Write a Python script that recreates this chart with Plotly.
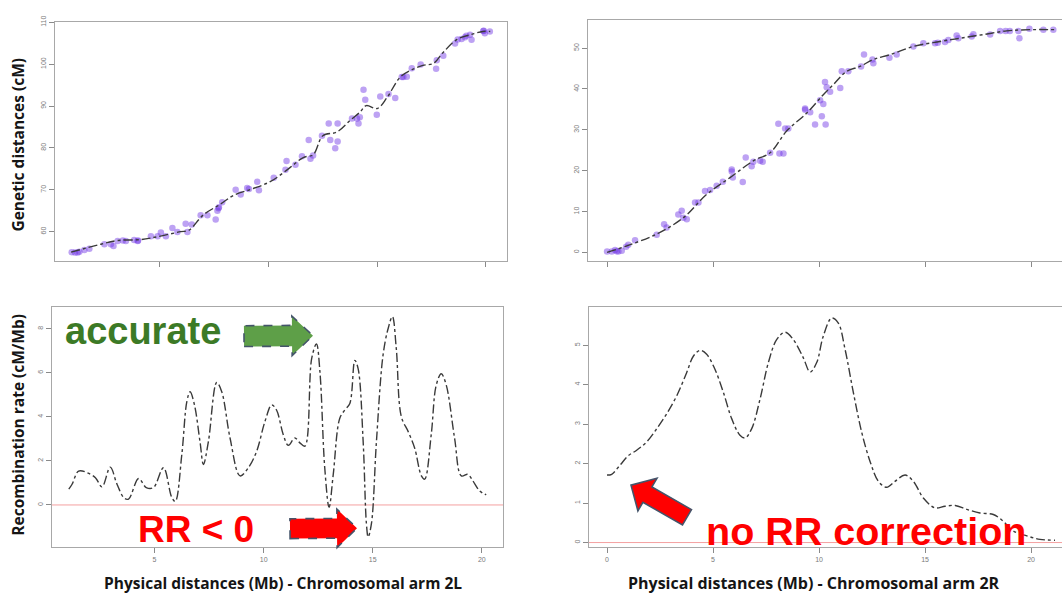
import math
import plotly.graph_objects as go

W, H = 1062, 595

# ---------------- Data ----------------
# Top-left: genetic map, chromosomal arm 2L (Mb vs cM)
gm2L_pts_x = [0.95, 1.22, 1.30, 1.53, 1.76, 2.45, 2.75, 2.87, 3.06, 3.44, 3.82, 3.98, 4.59, 4.90,
              5.05, 5.28, 5.58, 5.81, 6.19, 6.27, 6.47, 6.88, 7.19, 7.57, 7.65, 7.72, 7.87, 8.49,
              8.72, 9.02, 9.48, 9.56, 10.24, 10.78, 10.83, 11.24, 11.54, 11.85, 11.93, 12.05,
              12.46, 12.77, 12.84, 13.07, 13.18, 13.18, 13.84, 14.07, 14.14, 14.37, 14.45, 14.98,
              15.14, 15.52, 15.83, 16.13, 16.36, 16.59, 17.00, 17.71, 17.74, 18.04, 18.58, 18.88,
              19.04, 19.27, 19.34, 19.88, 19.95, 20.18, 1.10, 3.30, 4.00, 7.70, 9.10, 14.20, 16.20,
              18.70, 19.10, 19.90]
gm2L_pts_y = [55.1, 55.0, 55.2, 55.6, 55.9, 57.0, 57.0, 56.6, 57.8, 57.8, 58.0, 57.8, 58.9, 58.9,
              59.8, 58.9, 60.9, 59.9, 61.9, 59.9, 61.7, 63.9, 63.9, 62.9, 65.0, 65.8, 67.0, 70.0,
              68.9, 70.4, 71.9, 69.9, 72.9, 74.8, 76.9, 76.0, 78.0, 81.9, 77.4, 78.2,
              82.9, 85.8, 81.9, 79.9, 81.5, 85.8, 87.0, 87.0, 85.8, 93.9, 91.5, 87.9,
              92.3, 92.9, 91.9, 96.9, 97.0, 99.0, 99.9, 98.9, 100.9, 102.0, 104.9, 106.0,
              106.4, 107.0, 105.8, 107.9, 107.4, 107.8, 55.0, 57.9, 57.9, 65.6, 70.2, 87.3, 96.9,
              105.9, 106.8, 108.0]
gm2L_fit_x = [0.92, 2.29, 3.07, 4.13, 4.90, 5.96, 6.33, 7.00, 7.80, 8.40, 9.30, 10.10, 10.87, 11.60,
              12.06, 12.50, 13.15, 13.76, 14.20, 14.50, 15.00, 15.45, 16.06, 16.65, 17.10, 17.60,
              18.00, 18.67, 19.27, 19.86, 20.20]
gm2L_fit_y = [55.1, 57.0, 57.9, 58.1, 58.8, 60.0, 60.3, 64.0, 66.6, 68.7, 70.3, 72.0, 74.8, 77.7,
              78.4, 82.9, 83.8, 86.6, 88.5, 90.1, 89.4, 92.0, 96.9, 98.8, 99.7, 100.2,
              102.6, 105.9, 107.0, 107.8, 107.8]

# Top-right: genetic map, chromosomal arm 2R
gm2R_pts_x = [0.00, 0.22, 0.38, 0.53, 0.69, 0.90, 1.00, 1.32, 2.34, 2.69, 2.81, 3.36, 3.52, 3.60,
              3.76, 4.15, 4.31, 4.62, 4.86, 5.17, 5.46, 5.88, 5.93, 6.40, 6.54, 6.82, 6.90, 7.22,
              7.34, 7.69, 8.08, 8.13, 8.32, 8.40, 8.55, 9.34, 9.58, 9.81, 10.05, 10.13, 10.20,
              10.28, 10.31, 10.36, 10.52, 11.00, 11.07, 11.38, 11.98, 12.12, 12.52, 12.56, 13.32,
              13.66, 14.45, 14.92, 15.47, 15.94, 16.10, 16.49, 16.57, 17.20, 17.28, 18.07, 18.54,
              19.00, 19.40, 19.45, 19.92, 20.58, 21.05, 0.45, 5.88, 9.34, 15.60, 18.80]
gm2R_pts_y = [0.2, 0.2, 0.6, 0.2, 0.4, 1.4, 1.9, 3.0, 4.3, 6.9, 6.1, 9.3, 10.2, 8.5,
              8.1, 12.2, 12.2, 15.0, 15.3, 16.3, 17.3, 20.3, 18.3, 17.2, 23.2, 21.1, 22.2, 22.4,
              22.2, 24.4, 31.5, 24.2, 24.2, 30.3, 30.3, 35.2, 34.3, 31.3, 37.2, 33.3, 36.3,
              41.7, 31.3, 40.4, 39.3, 40.2, 44.3, 44.3, 45.5, 48.4, 47.2, 46.3, 47.6,
              48.4, 50.4, 51.2, 51.2, 51.5, 52.0, 53.1, 52.4, 52.8, 53.4, 53.3, 54.2,
              54.2, 54.2, 52.4, 54.7, 54.5, 54.5, 0.3, 19.8, 34.9, 51.3, 54.2]
gm2R_fit_x = [0.00, 0.93, 2.34, 3.60, 4.70, 5.80, 6.90, 7.69, 8.47, 9.42, 10.20, 10.68, 11.30, 11.93,
              12.56, 13.35, 14.45, 15.70, 16.65, 17.75, 18.85, 19.95, 21.13]
gm2R_fit_y = [0.0, 1.6, 4.5, 8.5, 14.2, 18.3, 22.4, 24.4, 29.7, 34.1, 38.6, 41.1, 44.3, 45.5,
              47.2, 48.4, 50.4, 51.6, 52.4, 53.3, 54.2, 54.5, 54.5]

# Bottom-left: recombination rate, 2L
rr2L_x = [1.07, 1.22, 1.52, 1.90, 2.29, 2.59, 2.97, 3.28, 3.61, 3.81, 4.27, 4.62, 4.95, 5.41, 5.79,
          5.95, 6.25, 6.48, 6.63, 6.83, 7.09, 7.24, 7.47, 7.85, 8.08, 8.46, 8.92, 9.30, 9.68,
          10.06, 10.37, 10.59, 10.90, 11.13, 11.43, 11.66, 11.89, 12.20, 12.42, 12.58, 12.80,
          13.00, 13.19, 13.49, 13.72, 13.95, 14.18, 14.33, 14.56, 14.71, 14.79, 14.94, 15.17,
          15.47, 15.70, 15.90, 16.08, 16.31, 16.62, 16.92, 17.23, 17.38, 17.68, 17.91, 18.14,
          18.37, 18.75, 19.06, 19.36, 19.59, 19.90, 20.20]
rr2L_y = [0.72, 0.94, 1.54, 1.47, 1.24, 0.82, 1.72, 0.94, 0.31, 0.27, 1.20, 0.79, 0.79, 1.69, 0.34,
          0.16, 2.29, 4.69, 5.14, 4.54, 2.82, 1.84, 2.89, 5.56, 5.14, 3.04, 1.32, 1.69, 2.44,
          3.79, 4.54, 4.31, 3.19, 2.71, 3.04, 2.82, 2.67, 6.64, 7.31, 6.04, 1.69,
          -0.10, 1.39, 3.94, 4.31, 4.61, 6.56, 6.19, 2.89, -0.85, -1.45, -0.85, 2.89,
          6.79, 7.99, 8.55, 7.09, 4.01, 3.34, 2.59, 1.32, 1.17, 3.19, 5.44, 5.96,
          5.44, 3.04, 1.32, 1.39, 1.09, 0.64, 0.46]

# Bottom-right: recombination rate, 2R
rr2R_x = [0.00, 0.22, 0.61, 1.00, 1.40, 1.87, 2.34, 2.81, 3.29, 3.76, 4.07, 4.39, 4.70, 5.09, 5.49,
          5.88, 6.27, 6.51, 6.82, 7.22, 7.61, 8.00, 8.40, 8.79, 9.26, 9.58, 9.89, 10.20, 10.60,
          10.91, 11.23, 11.62, 12.01, 12.41, 12.80, 13.19, 13.58, 14.06, 14.45, 14.92, 15.47,
          15.94, 16.42, 16.97, 17.59, 18.22, 18.69, 19.17, 19.80, 20.42, 21.13]
rr2R_y = [1.71, 1.73, 1.96, 2.20, 2.34, 2.55, 2.88, 3.26, 3.72, 4.31, 4.72, 4.87, 4.77, 4.39, 3.80,
          3.14, 2.72, 2.65, 2.88, 3.64, 4.56, 5.14, 5.33, 5.14, 4.68, 4.32, 4.56, 5.23, 5.69,
          5.56, 4.89, 3.80, 2.80, 2.05, 1.55, 1.40, 1.55, 1.71, 1.55, 1.13, 0.88,
          0.92, 0.94, 0.84, 0.75, 0.71, 0.54, 0.29, 0.17, 0.08, 0.06]

tl_ticks = [60, 70, 80, 90, 100, 110]
tr_ticks = [0, 10, 20, 30, 40, 50]
bl_ticks = [0, 2, 4, 6, 8]
br_ticks = [0, 1, 2, 3, 4, 5]
x_ticks_L = [5, 10, 15, 20]
x_ticks_R = [0, 5, 10, 15, 20]

# ---------------- Helpers ----------------
def px(x):
    return x / W


def py(y):
    return 1 - y / H


PT_COLOR = "rgba(108, 48, 228, 0.45)"
LINE_STYLE = dict(color="#3a3a3a", width=1.4, dash="dashdot")

fig = go.Figure()

fig.add_trace(go.Scatter(x=gm2L_pts_x, y=gm2L_pts_y, mode="markers",
                         marker=dict(size=6.5, color=PT_COLOR, line=dict(width=0)),
                         xaxis="x", yaxis="y"))
fig.add_trace(go.Scatter(x=gm2L_fit_x, y=gm2L_fit_y, mode="lines", line=LINE_STYLE,
                         line_shape="spline", xaxis="x", yaxis="y"))

fig.add_trace(go.Scatter(x=gm2R_pts_x, y=gm2R_pts_y, mode="markers",
                         marker=dict(size=6.5, color=PT_COLOR, line=dict(width=0)),
                         xaxis="x2", yaxis="y2"))
fig.add_trace(go.Scatter(x=gm2R_fit_x, y=gm2R_fit_y, mode="lines", line=LINE_STYLE,
                         line_shape="spline", xaxis="x2", yaxis="y2"))

fig.add_trace(go.Scatter(x=rr2L_x, y=rr2L_y, mode="lines", line=LINE_STYLE,
                         line_shape="spline", xaxis="x3", yaxis="y3"))
fig.add_trace(go.Scatter(x=rr2R_x, y=rr2R_y, mode="lines", line=LINE_STYLE,
                         line_shape="spline", xaxis="x4", yaxis="y4"))

TICKFONT = dict(family="Liberation Sans", size=7, color="#7a7a7a")
AX_COMMON = dict(showgrid=False, zeroline=False, showline=True, linecolor="#a8a8a8",
                 linewidth=1, ticks="outside", ticklen=5, tickcolor="#8a8a8a",
                 tickfont=TICKFONT)

fig.update_layout(
    width=W, height=H,
    margin=dict(l=0, r=0, t=0, b=0),
    paper_bgcolor="white", plot_bgcolor="white",
    showlegend=False,
    xaxis=dict(domain=[px(55), px(507)], range=[0.18, 20.97], anchor="y",
               tickvals=x_ticks_L, showticklabels=False, mirror=True, **AX_COMMON),
    yaxis=dict(domain=[py(258), py(16)], range=[52.9, 110.1], anchor="x",
               tickvals=tl_ticks, tickangle=-90, mirror=True, **AX_COMMON),
    xaxis2=dict(domain=[px(588), 1.0], range=[-0.9, 21.46], anchor="y2",
                tickvals=x_ticks_R, showticklabels=False, mirror=True, **AX_COMMON),
    yaxis2=dict(domain=[py(258), py(14)], range=[-2.2, 56.9], anchor="x2",
                tickvals=tr_ticks, tickangle=-90, mirror=False, **AX_COMMON),
    xaxis3=dict(domain=[px(52), px(503)], range=[0.3, 20.97], anchor="y3",
                tickvals=x_ticks_L, mirror=True, **AX_COMMON),
    yaxis3=dict(domain=[py(547), py(304)], range=[-1.93, 8.99], anchor="x3",
                tickvals=bl_ticks, tickangle=-90, mirror=True, **AX_COMMON),
    xaxis4=dict(domain=[px(589), 1.0], range=[-0.85, 21.46], anchor="y4",
                tickvals=x_ticks_R, mirror=True, **AX_COMMON),
    yaxis4=dict(domain=[py(547), py(304)], range=[-0.125, 5.97], anchor="x4",
                tickvals=br_ticks, tickangle=-90, mirror=False, **AX_COMMON),
)

# zero reference lines in the recombination-rate panels
for xr, yr in (("x3", "y3"), ("x4", "y4")):
    fig.add_shape(type="line", xref=f"{xr} domain", yref=yr, x0=0, x1=1, y0=0, y1=0,
                  line=dict(color="#f4a0a0", width=1), layer="below")


def arrow_path(tail, tip, bh, hh, hl):
    tx, ty = tail
    hx, hy = tip
    dx, dy = hx - tx, hy - ty
    L = math.hypot(dx, dy)
    ux, uy = dx / L, dy / L
    nx, ny = -uy, ux
    bx, by = hx - ux * hl, hy - uy * hl
    pts = [(tx + nx * bh, ty + ny * bh), (bx + nx * bh, by + ny * bh),
           (bx + nx * hh, by + ny * hh), (hx, hy),
           (bx - nx * hh, by - ny * hh), (bx - nx * bh, by - ny * bh),
           (tx - nx * bh, ty - ny * bh)]
    return "M " + " L ".join(f"{px(x):.5f},{py(y):.5f}" for x, y in pts) + " Z"


ARROW_EDGE = dict(color="#44546a", width=1.6, dash="dash")
fig.add_shape(type="path", xref="paper", yref="paper",
              path=arrow_path((244, 333.5), (313, 333), 10.5, 20, 21),
              fillcolor="#5e9f48", line=ARROW_EDGE)
fig.add_shape(type="path", xref="paper", yref="paper",
              path=arrow_path((290, 528), (357, 527.5), 10, 19.5, 20),
              fillcolor="#ff0000", line=ARROW_EDGE)
fig.add_shape(type="path", xref="paper", yref="paper",
              path=arrow_path((687, 516.5), (631, 484), 9, 19, 19),
              fillcolor="#ff0000", line=dict(color="#44546a", width=1.6))

TITLE_FONT = dict(family="Open Sans", size=15.5, color="#151515", weight="bold")


def ann(text, x, y, font, **kw):
    fig.add_annotation(text=text, x=px(x), y=py(y), xref="paper", yref="paper",
                       xanchor="center", yanchor="middle", borderpad=0,
                       showarrow=False, font=font, **kw)


ann("Genetic distances (cM)", 18, 140, TITLE_FONT, textangle=-90)
ann("Recombination rate (cM/Mb)", 18, 423, dict(TITLE_FONT, size=15.5), textangle=-90)
ann("Physical distances (Mb) - Chromosomal arm 2L", 283, 583, dict(TITLE_FONT, size=15.5))
ann("Physical distances (Mb) - Chromosomal arm 2R", 814, 583, dict(TITLE_FONT, size=16))

BIG = dict(family="Liberation Sans", weight="bold")
ann("accurate", 143, 328, dict(BIG, size=38, color="#3c7a26"))
ann("RR < 0", 196, 529, dict(BIG, size=37, color="#ff0000"))
ann("no RR correction", 866, 530, dict(BIG, size=39.5, color="#ff0000"))

fig.write_html("out.html")
